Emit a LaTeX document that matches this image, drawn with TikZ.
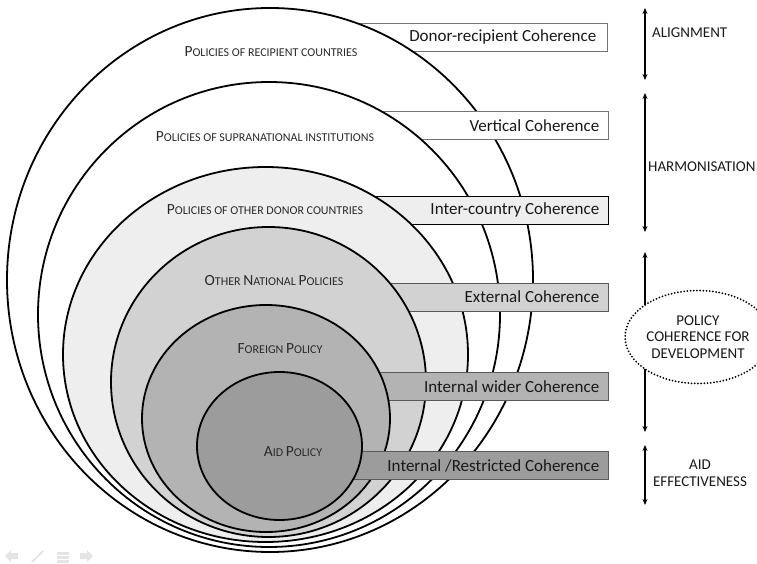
\documentclass[tikz,border=0pt]{standalone}
\usepackage{fontspec}
\setmainfont{Carlito}
\usetikzlibrary{arrows.meta,shapes.geometric}
\definecolor{c3}{HTML}{EEEEEE}
\definecolor{c4}{HTML}{D2D2D2}
\definecolor{c5}{HTML}{B3B3B3}
\definecolor{c6}{HTML}{9C9C9C}
\definecolor{navg}{HTML}{E4E4E4}
\definecolor{labelc}{HTML}{2A2A2A}
\newcommand\Bc[1]{{\fontsize{15.5}{15.5}\selectfont #1}}
\begin{document}
\begin{tikzpicture}[x=1pt,y=-1pt,
  ring/.style={draw=black,line width=1.8pt},
  cbox/.style={rectangle,draw=#1,line width=0.9pt,minimum width=307pt,minimum height=28pt,inner sep=0pt},
  boxtext/.style={anchor=east,font=\fontsize{17}{17}\selectfont,inner sep=0pt,text=black!90},
  pol/.style={font=\fontsize{12}{12}\selectfont,inner sep=0pt,text=labelc},
  side/.style={font=\fontsize{15}{16.5}\selectfont,inner sep=0pt,text=black!90,align=center},
  span/.style={line width=1.5pt,{Stealth[length=6pt,width=5pt]}-{Stealth[length=6pt,width=5pt]}}
]
\useasboundingbox (0,0) rectangle (757,564);

% box 1 then ring 1
\node[cbox=black!55,fill=white] (b1) at (453.5,37) {};
\draw[ring,fill=white] (270,280) ellipse [x radius=263pt,y radius=272pt];
% box 2 then ring 2
\node[cbox=black!55,fill=white] (b2) at (454.5,125.5) {};
\draw[ring,fill=white] (269,314.5) ellipse [x radius=231pt,y radius=232.5pt];
% box 3 then ring 3
\node[cbox=black,fill=c3] (b3) at (454.5,210) {};
\draw[ring,fill=c3] (265.5,354.5) ellipse [x radius=202.5pt,y radius=187.5pt];
% box 4 then ring 4
\node[cbox=black!65,fill=c4] (b4) at (454.5,297) {};
\draw[ring,fill=c4] (268.5,382) ellipse [x radius=157.5pt,y radius=155pt];
% box 5 then ring 5
\node[cbox=black!65,fill=c5] (b5) at (454.5,386.5) {};
\draw[ring,fill=c5] (266,418.5) ellipse [x radius=124pt,y radius=113.5pt];
% box 6 then ring 6
\node[cbox=black!65,fill=c6] (b6) at (454.5,465.5) {};
\draw[ring,fill=c6] (279.5,446) ellipse [x radius=82.5pt,y radius=74pt];

% box texts
\node[boxtext] (t1) at ([xshift=-11pt]b1.east) {Donor-recipient Coherence};
\node[boxtext] (t2) at ([xshift=-9pt]b2.east) {Vertical Coherence};
\node[boxtext] (t3) at ([xshift=-9pt]b3.east) {Inter-country Coherence};
\node[boxtext] (t4) at ([xshift=-9pt]b4.east) {External Coherence};
\node[boxtext] (t5) at ([xshift=-9pt]b5.east) {Internal wider Coherence};
\node[boxtext] (t6) at ([xshift=-9pt]b6.east) {Internal /Restricted Coherence};

% ring labels
\node[pol] (l1) at (271,52) {\Bc{P}OLICIES OF RECIPIENT COUNTRIES};
\node[pol] (l2) at (265,137) {\Bc{P}OLICIES OF SUPRANATIONAL INSTITUTIONS};
\node[pol] (l3) at (265,210) {\Bc{P}OLICIES OF OTHER DONOR COUNTRIES};
\node[pol] (l4) at (274,281) {\Bc{O}THER \Bc{N}ATIONAL \Bc{P}OLICIES};
\node[pol] (l5) at (280,349) {\Bc{F}OREIGN \Bc{P}OLICY};
\node[pol] (l6) at (293,452) {\Bc{A}ID \Bc{P}OLICY};

% right-hand spans
\coordinate (a1t) at (645,8);   \coordinate (a1b) at (645,80);
\coordinate (a2t) at (645,93);  \coordinate (a2b) at (645,232);
\coordinate (a3t) at (645,252); \coordinate (a3b) at (645,432);
\coordinate (a4t) at (645,445); \coordinate (a4b) at (645,505);
\draw[span] (a1t) -- (a1b);
\draw[span] (a2t) -- (a2b);
\draw[span] (a3t) -- (a3b);
\draw[span] (a4t) -- (a4b);

\node[side,anchor=west] (s1) at (652,33) {ALIGNMENT};
\node[side,anchor=west] (s2) at (648,167) {HARMONISATION};
\node[side] (s4) at (700,473) {AID\\EFFECTIVENESS};
\node[ellipse,draw=black,line width=2pt,dash pattern=on 0pt off 3.2pt,line cap=round,
      minimum width=107pt,minimum height=93pt,inner sep=0pt,fill=white,side] (pcd) at (698,337)
      {POLICY\\COHERENCE FOR\\DEVELOPMENT};

% faint slide-navigation icons
\fill[navg] (5,556) -- (11,550) -- (11,553) -- (18,553) -- (18,559) -- (11,559) -- (11,562) -- cycle;
\draw[navg,line width=2pt,line cap=round] (32,562) -- (43,551);
\fill[navg] (57,552) rectangle (69,554.5);
\fill[navg] (57,556) rectangle (69,558.5);
\fill[navg] (57,560) rectangle (69,562.5);
\fill[navg] (93,556) -- (87,550) -- (87,553) -- (80,553) -- (80,559) -- (87,559) -- (87,562) -- cycle;
\end{tikzpicture}
\end{document}
